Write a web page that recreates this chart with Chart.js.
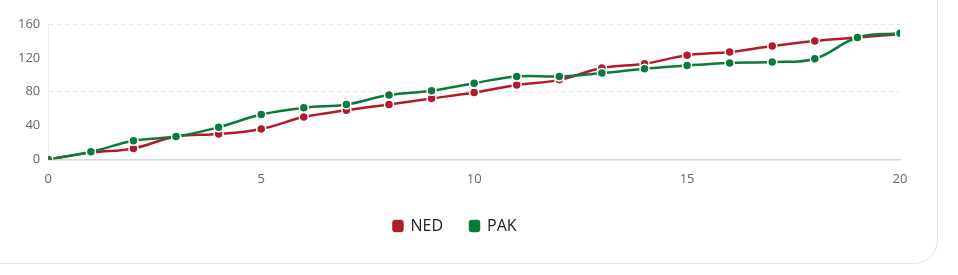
<!DOCTYPE html>
<html lang="en">
<head>
    <meta charset="UTF-8">
    <title>NED vs PAK</title>
    <style>
        body {
            margin: 0;
            padding: 0;
            background-color: #ffffff;
            font-family: "Open Sans", Arial, sans-serif;
            overflow: hidden;
        }
        .card {
            position: absolute;
            left: -30px;
            top: -30px;
            width: 966px;
            height: 292px;
            border: 1px solid #e4e4e4;
            border-radius: 24px;
            background: #fff;
        }
        .chart-container {
            position: absolute;
            left: 0;
            top: 0;
            width: 916px;
            height: 250px;
        }
    </style>
    <script src="https://cdn.jsdelivr.net/npm/chart.js"></script>
</head>
<body>
    <div class="card"></div>
    <div class="chart-container">
        <canvas id="plot"></canvas>
    </div>

    <script>
        const overs = [0, 1, 2, 3, 4, 5, 6, 7, 8, 9, 10, 11, 12, 13, 14, 15, 16, 17, 18, 19, 20];
        const nedRuns = [0, 8, 13, 27, 30, 36, 50, 58, 65, 72, 79, 88, 94, 108, 113, 123, 127, 134, 140, 144, 148];
        const pakRuns = [0, 9, 22, 27, 38, 53, 61, 65, 76, 81, 90, 98, 98, 102, 107, 111, 114, 115, 119, 144, 149];

        const nedColor = '#b01c2c';
        const pakColor = '#0b7a3c';
        const fontFamily = '"Open Sans", Arial, sans-serif';

        function toPoints(values) {
            return overs.map((o, i) => ({ x: o, y: values[i] }));
        }

        const ctx = document.getElementById('plot').getContext('2d');
        new Chart(ctx, {
            type: 'line',
            data: {
                datasets: [{
                    label: 'NED',
                    data: toPoints(nedRuns),
                    borderColor: nedColor,
                    backgroundColor: nedColor,
                    pointBackgroundColor: nedColor,
                    pointBorderColor: '#fff',
                    pointBorderWidth: 1.5,
                    pointRadius: 4.5,
                    borderWidth: 2.5,
                    tension: 0.4,
                    order: 1
                }, {
                    label: 'PAK',
                    data: toPoints(pakRuns),
                    borderColor: pakColor,
                    backgroundColor: pakColor,
                    pointBackgroundColor: pakColor,
                    pointBorderColor: '#fff',
                    pointBorderWidth: 1.5,
                    pointRadius: 4.5,
                    borderWidth: 2.5,
                    tension: 0.4,
                    order: 0
                }]
            },
            options: {
                responsive: true,
                maintainAspectRatio: false,
                animation: false,
                layout: {
                    padding: { top: 24, right: 16, left: 10, bottom: 6 }
                },
                scales: {
                    x: {
                        type: 'linear',
                        min: 0,
                        max: 20,
                        ticks: {
                            stepSize: 5,
                            color: '#666',
                            font: { family: fontFamily, size: 13 },
                            padding: 4
                        },
                        grid: { display: false },
                        border: { color: '#d9d9d9', width: 1.5 }
                    },
                    y: {
                        min: 0,
                        max: 160,
                        ticks: {
                            stepSize: 40,
                            color: '#666',
                            font: { family: fontFamily, size: 13 },
                            padding: 8
                        },
                        grid: {
                            drawTicks: false,
                            color: c => (c.tick && c.tick.value > 0 && c.tick.value % 80 === 0) ? '#e6e6e6' : 'transparent'
                        },
                        border: { color: '#eeeeee', dash: [4, 4] }
                    }
                },
                plugins: {
                    legend: {
                        position: 'bottom',
                        labels: {
                            boxWidth: 9,
                            boxHeight: 10,
                            useBorderRadius: true,
                            borderRadius: 2,
                            padding: 27,
                            color: '#222',
                            font: { family: fontFamily, size: 16 },
                            sort: (a, b) => a.datasetIndex - b.datasetIndex
                        }
                    },
                    tooltip: { enabled: false }
                }
            }
        });
    </script>
</body>
</html>
